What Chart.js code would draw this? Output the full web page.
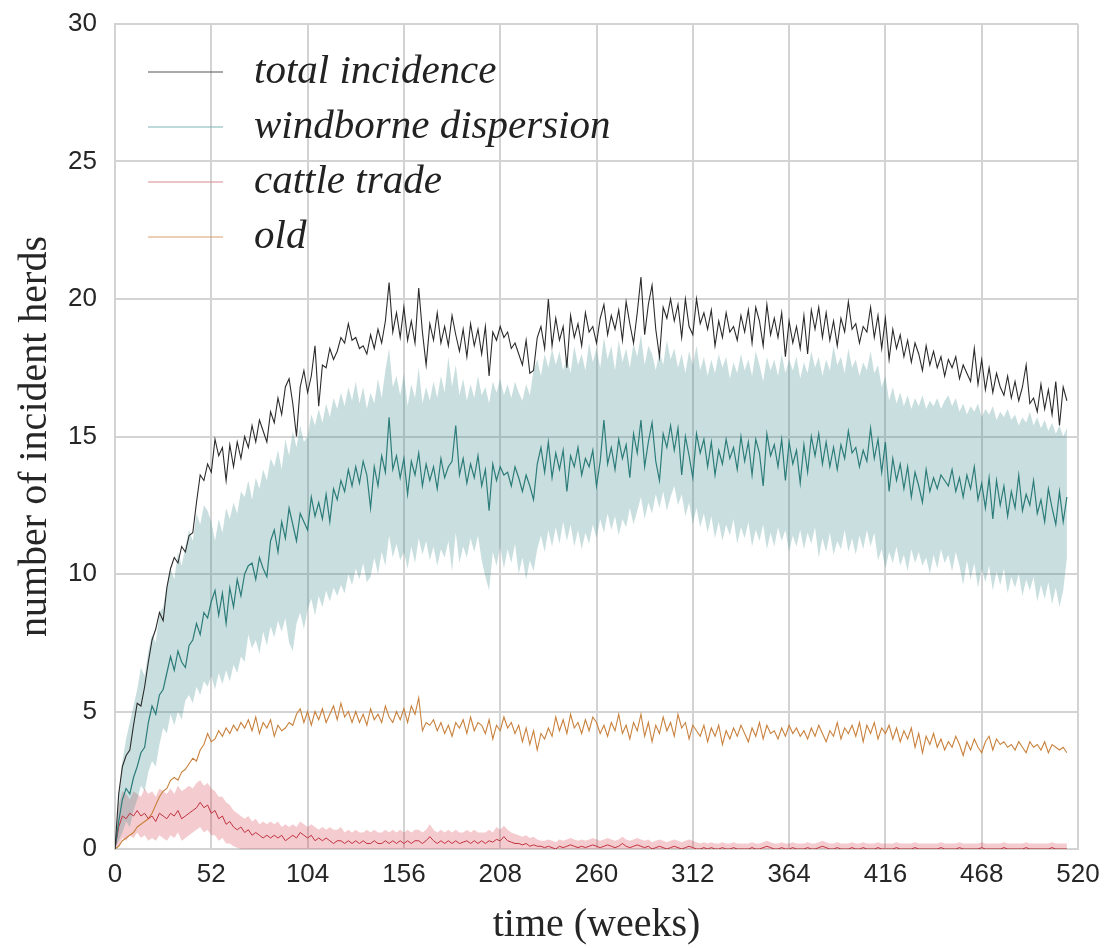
<!DOCTYPE html>
<html>
<head>
<meta charset="utf-8">
<script src="https://cdn.jsdelivr.net/npm/chart.js@4.4.0/dist/chart.umd.min.js"></script>
<style>
  html, body { margin: 0; padding: 0; background: #fff; }
  canvas { display: block; }
</style>
</head>
<body>
<canvas id="incidenceChart" width="1111" height="948"></canvas>
<script>
// weekly series, sampled every 2 weeks (week 0 .. 514)
var totalIncidence = [
  0, 2.0, 3.0, 3.4, 3.6, 4.5, 5.3, 5.2, 5.9, 6.8,
  7.6, 8.0, 8.6, 8.3, 9.5, 10.2, 10.6, 10.4, 11.0, 10.8,
  11.4, 11.5, 12.6, 13.6, 13.4, 14.0, 13.7, 14.9, 14.3, 14.6,
  13.4, 14.7, 13.9, 14.8, 14.2, 15.0, 14.6, 15.4, 14.8, 15.6,
  15.2, 14.8, 15.9, 15.5, 16.4, 15.8, 16.8, 17.1, 16.2, 15.0,
  16.8, 17.4, 16.6, 17.2, 18.3, 16.1, 17.6, 17.5, 18.2, 17.8,
  18.1, 18.6, 18.4, 19.1, 18.5, 18.6, 18.2, 18.3, 18.0, 18.7,
  18.2, 18.9, 18.4, 19.2, 20.6, 18.8, 19.5, 18.6, 19.7, 18.5,
  19.2, 18.4, 20.4, 18.8, 17.6, 19.1, 18.5, 19.5, 18.4, 19.0,
  18.3, 19.4, 18.7, 18.1, 18.9, 17.9, 19.1, 18.3, 18.9, 18.0,
  19.0, 17.2, 18.8, 18.5, 19.0, 18.6, 18.8, 18.2, 18.4, 18.0,
  17.6, 18.5, 17.3, 17.4, 18.6, 19.0, 18.2, 20.0, 18.3, 19.3,
  18.5, 19.0, 17.5, 19.4, 18.6, 19.1, 18.3, 19.5, 18.8, 19.0,
  18.4, 19.3, 19.8, 18.7, 19.4, 18.9, 19.6, 18.5, 19.9, 19.1,
  18.4, 19.5, 20.8, 18.7, 19.8, 20.5, 18.9, 17.9, 19.7, 19.3,
  20.0, 19.2, 19.8, 18.6, 20.0, 19.0, 18.7, 20.0, 19.1, 19.5,
  18.9, 19.6, 18.3, 19.2, 18.6, 19.5, 18.8, 19.0, 18.5, 19.4,
  18.8, 19.6, 18.4, 19.7, 19.2, 18.3, 19.8, 18.7, 19.3, 18.6,
  19.5, 17.9, 19.2, 18.4, 19.0, 18.2, 19.4, 18.0, 19.6, 18.9,
  19.7, 18.6, 19.5, 18.5, 19.2, 18.3, 19.3, 18.8, 19.9, 18.9,
  19.1, 18.4, 19.0, 18.8, 19.7, 18.6, 19.4, 18.2, 19.3, 17.8,
  18.9, 18.2, 18.7, 17.9, 18.5, 17.7, 18.4, 18.0, 17.4, 18.3,
  17.6, 18.1, 17.5, 17.9, 17.2, 17.8, 17.5, 17.9, 17.1, 17.6,
  17.3, 17.0, 18.2, 16.9, 17.8, 16.7, 17.5, 16.6, 17.3, 16.8,
  16.5, 17.2, 16.4, 17.0, 16.3, 16.8, 17.6, 16.2, 16.4, 15.9,
  16.9, 16.0, 16.7, 15.8, 17.0, 15.4, 16.8, 16.3
];

var windborne = [
  0, 1.0, 1.8, 2.2, 2.0, 2.6, 3.0, 3.5, 3.7, 4.6,
  5.2, 4.9, 5.6, 5.8, 6.4, 7.0, 6.5, 7.2, 6.8, 6.6,
  7.4, 7.6, 8.2, 7.8, 8.6, 8.4, 9.0, 9.4, 8.5, 9.3,
  8.2, 9.5, 8.8, 9.8, 9.2, 10.0, 10.3, 10.4, 9.8, 10.6,
  10.2, 9.9, 11.2, 11.6, 10.8, 11.9, 11.3, 12.4, 11.8, 11.2,
  12.2, 11.9, 11.6, 12.8, 12.1, 12.6, 12.0, 12.9, 11.9, 13.1,
  12.7, 13.4, 13.0, 13.8, 13.2, 13.9, 13.3, 14.1, 13.6, 12.4,
  13.9, 13.2, 14.3, 13.7, 15.7, 13.8, 14.3, 13.5, 14.2, 12.9,
  14.1, 13.6, 14.4, 13.2, 14.0, 13.4, 13.9, 13.1, 14.2, 13.5,
  13.9, 14.1, 15.4, 13.6, 14.2, 13.3, 14.0, 13.5, 14.3, 13.2,
  13.8, 12.3, 14.0, 13.4, 13.9, 13.6, 13.7, 13.2, 13.9, 13.5,
  13.0, 13.6, 13.2, 12.7, 14.0, 14.6, 13.7, 14.8, 13.5, 14.4,
  13.8, 14.5, 13.0, 14.3, 13.9, 14.6, 13.6, 14.2, 13.9, 14.5,
  13.2, 14.1, 15.6, 14.0, 14.6, 13.8, 14.9, 14.2, 14.7, 13.5,
  15.1, 14.4, 15.6, 13.9, 14.8, 15.5, 14.1, 13.4, 15.1, 14.6,
  15.4, 14.5, 15.3, 13.6, 15.0, 14.3, 13.5, 15.1, 14.4, 14.9,
  13.9, 14.8, 13.6, 14.5, 14.0, 14.9, 14.2, 14.6, 13.8, 15.0,
  14.1, 14.8, 13.6, 14.9, 14.4, 13.2, 15.1, 14.3, 14.7, 13.9,
  14.9, 13.4, 14.8, 14.0, 14.5, 13.3, 14.7, 13.7, 15.0, 14.3,
  15.1, 14.0, 14.8, 13.9, 14.6, 13.8, 14.7, 14.2, 15.2, 14.4,
  14.6, 13.9, 14.5, 14.1, 15.3, 14.2, 14.9, 13.7, 14.8, 13.0,
  14.2, 13.4, 14.0, 13.1, 13.9, 12.8, 13.7, 13.2, 12.6, 13.8,
  13.0, 13.5, 13.1, 13.6, 13.4, 13.2, 13.8, 13.0, 13.5, 12.8,
  13.6, 13.1, 13.9, 12.7, 13.3, 12.4, 13.5, 12.0, 13.4, 12.5,
  13.2, 12.1, 13.0, 12.4, 13.6, 12.3, 12.9, 12.5, 13.4, 12.2,
  12.7, 11.9, 13.1, 12.4, 11.8, 13.0, 11.9, 12.8
];

var windborneUpper = [
  0, 2.0, 3.2, 4.0, 4.6, 5.2, 5.8, 6.6, 6.3, 7.2,
  7.8, 7.5, 8.6, 8.8, 9.6, 10.2, 9.8, 10.8, 10.3, 11.0,
  11.6, 11.2, 12.2, 11.8, 12.5, 12.3, 11.9, 11.2, 12.0, 11.5,
  12.4, 12.0, 12.6, 12.2, 13.0, 12.8, 13.4, 12.7, 13.5, 13.1,
  13.8, 13.4, 14.2, 13.9, 14.5, 13.8, 14.9, 14.3, 15.2, 14.6,
  15.4, 14.8, 15.0, 15.8, 15.4, 16.0, 15.5, 16.2, 15.7, 16.4,
  16.0, 16.6, 16.1, 16.8, 16.3, 17.0, 16.2, 16.8, 16.0, 16.6,
  16.2, 17.1, 16.4, 17.4, 18.2, 16.8, 17.2, 16.5, 17.3, 16.1,
  16.9, 16.4, 17.5, 16.2, 16.8, 16.3, 17.0, 16.4, 17.2, 16.6,
  17.9, 16.8, 17.6, 16.5, 17.1, 16.3, 16.9, 16.4, 17.2, 16.5,
  16.8, 16.2, 17.0, 16.6, 17.1, 16.5, 16.9, 16.4, 17.0, 16.6,
  16.3, 16.9, 16.5, 17.4, 17.8, 17.2, 18.0, 17.5, 18.2, 17.6,
  18.1, 17.4, 17.9, 17.3, 18.3, 17.6, 18.0, 17.4, 18.4, 17.7,
  18.2, 17.5, 18.6, 17.8, 18.3, 17.4, 18.5, 17.7, 18.2, 17.5,
  18.4, 17.9, 18.7, 17.6, 18.3, 18.0, 17.4, 18.1, 17.6, 18.5,
  17.8, 18.2, 17.5, 18.0, 17.3, 18.1, 17.6, 18.3, 17.4, 17.9,
  17.2, 17.8, 17.3, 18.0, 17.5, 17.9, 17.1, 17.7, 17.3, 18.0,
  17.4, 17.8, 17.2, 18.1, 17.6, 17.0, 17.9, 17.4, 17.8, 17.2,
  18.0, 17.3, 17.8, 17.4, 17.9, 17.1, 17.7, 17.3, 18.1, 17.5,
  17.9, 17.2, 17.8, 17.4, 18.3, 17.6, 17.9, 17.3, 18.2, 17.5,
  17.8, 17.2, 17.7, 17.4, 18.1, 17.3, 17.6, 16.8, 17.2, 16.3,
  16.8, 16.2, 16.6, 16.1, 16.5, 16.0, 16.4, 16.1, 16.5, 16.0,
  16.3, 16.1, 16.4, 16.0, 16.3, 16.5, 16.1, 16.4, 15.9, 16.2,
  15.8, 16.1, 15.9, 16.2, 15.7, 16.0, 15.8, 16.1, 15.6, 15.9,
  15.7, 16.0, 15.6, 15.8, 15.4, 15.7, 15.5, 15.9, 15.4, 15.7,
  15.3, 15.6, 15.2, 15.5, 15.1, 15.4, 15.0, 15.3
];

var windborneLower = [
  0, 0.3, 0.6, 1.0, 0.8, 1.4, 1.8, 2.3, 2.1, 2.8,
  3.2, 3.0, 3.8, 4.4, 4.2, 4.9, 4.5, 5.0, 4.7, 5.4,
  5.6, 5.3, 5.9, 5.6, 6.1, 5.9, 6.3, 5.8, 6.4, 6.0,
  6.5, 6.1, 6.7, 6.4, 7.0, 6.8, 7.8, 7.3, 7.6, 7.1,
  7.9, 7.4, 8.1, 7.7, 8.3, 7.9, 8.4, 7.5, 7.2, 8.2,
  8.6, 8.0, 8.7, 9.1, 8.5, 9.2, 8.8, 9.4, 9.0, 9.5,
  9.2, 9.6, 9.3, 10.0, 9.6, 10.2, 9.8, 10.4, 9.7, 9.9,
  10.6, 10.0, 10.8, 10.3, 11.4, 10.6, 11.1, 10.5, 10.8, 10.2,
  11.0, 10.4, 11.3, 10.7, 11.2, 10.5, 11.0, 10.3, 10.9, 10.6,
  11.2, 10.1, 11.5, 10.4, 11.0, 10.6, 11.3, 10.8, 11.4, 10.5,
  9.9, 9.4, 10.8, 10.3, 11.0, 10.2, 10.9, 10.4, 11.1, 10.0,
  10.6, 9.8, 10.5, 10.1, 10.9, 11.4, 10.8, 11.6, 11.0, 11.7,
  11.1, 11.9, 11.2, 11.8, 11.0, 11.6, 10.9, 11.5, 11.1, 11.8,
  11.3, 12.0, 11.5, 12.2, 11.6, 12.1, 11.4, 12.0, 11.7, 12.4,
  11.8, 12.3, 12.8, 12.0, 12.6, 12.2, 12.9, 12.4, 13.0, 12.3,
  12.8, 13.2, 12.5, 12.9, 12.1, 12.6, 11.8, 12.4, 11.7, 12.2,
  11.5, 12.1, 11.3, 11.9, 11.2, 11.8, 11.4, 12.0, 11.1, 11.7,
  11.3, 11.9, 11.0, 11.6, 11.2, 11.8, 10.9, 11.5, 11.0, 11.7,
  11.2, 11.6, 10.8, 11.4, 11.0, 11.6, 10.9, 11.5, 11.1, 11.7,
  10.6, 11.3, 10.8, 11.5, 10.7, 11.2, 10.9, 11.6, 10.8, 11.3,
  10.7, 11.4, 10.9, 11.6, 11.0, 11.5, 10.5, 10.9, 10.2, 10.8,
  10.4, 11.0, 10.3, 10.7, 10.1, 10.9, 10.4, 10.8, 10.3, 10.6,
  10.0, 10.7, 10.2, 10.9, 10.4, 10.7, 10.1, 10.8, 10.3, 9.6,
  10.5, 9.8, 10.4, 9.5, 10.2, 9.7, 10.3, 9.4, 10.1, 9.6,
  10.2, 9.3, 9.9, 9.5, 10.0, 9.2, 9.8, 9.4, 9.9, 9.0,
  9.6, 9.1, 9.7, 8.9, 9.5, 8.8, 9.4, 10.6
];

var cattleTrade = [
  0, 0.8, 1.2, 1.1, 1.3, 1.2, 1.4, 1.2, 1.3, 1.1,
  1.2, 1.0, 1.3, 1.2, 1.1, 1.3, 1.2, 1.4, 1.1, 1.2,
  1.3, 1.4, 1.5, 1.7, 1.5, 1.6, 1.3, 1.4, 1.1, 1.2,
  0.9, 1.0, 0.8, 0.7, 0.8, 0.6, 0.7, 0.5, 0.6, 0.5,
  0.4, 0.5, 0.4, 0.5, 0.4, 0.5, 0.3, 0.4, 0.5, 0.4,
  0.6, 0.5, 0.4, 0.5, 0.3, 0.4, 0.3, 0.4, 0.3, 0.2,
  0.3, 0.3, 0.2, 0.3, 0.2, 0.3, 0.2, 0.3, 0.2, 0.2,
  0.3, 0.2, 0.2, 0.3, 0.2, 0.3, 0.2, 0.3, 0.2, 0.3,
  0.2, 0.3, 0.3, 0.2, 0.3, 0.45, 0.3, 0.2, 0.3, 0.2,
  0.3, 0.2, 0.3, 0.2, 0.25, 0.3, 0.2, 0.3, 0.2, 0.3,
  0.2, 0.3, 0.25, 0.35, 0.3, 0.45, 0.3, 0.25, 0.2, 0.2,
  0.15, 0.2, 0.1, 0.15, 0.1, 0.1, 0.05, 0.1, 0.05, 0,
  0.1, 0.05, 0.1, 0.15, 0.1, 0.05, 0.1, 0.05, 0.1, 0.15,
  0.1, 0.05, 0.1, 0.15, 0.1, 0.05, 0.1, 0.2, 0.1, 0.05,
  0.1, 0.15, 0.1, 0.05, 0.1, 0, 0.05, 0.1, 0.05, 0,
  0.05, 0.1, 0.05, 0, 0.05, 0.1, 0.05, 0, 0, 0.05,
  0, 0.05, 0, 0, 0.05, 0, 0, 0.05, 0, 0,
  0, 0, 0.05, 0, 0, 0.05, 0.1, 0.05, 0, 0,
  0.05, 0, 0, 0.05, 0, 0, 0, 0.05, 0, 0,
  0.05, 0.1, 0.05, 0, 0, 0.05, 0, 0, 0, 0.05,
  0, 0, 0.05, 0, 0, 0, 0.05, 0, 0, 0,
  0, 0.05, 0, 0, 0, 0, 0.05, 0, 0, 0,
  0, 0, 0, 0.05, 0, 0, 0, 0, 0.05, 0,
  0, 0, 0, 0, 0.05, 0, 0, 0, 0, 0,
  0.05, 0, 0, 0, 0, 0, 0.05, 0, 0, 0,
  0, 0, 0, 0.05, 0, 0, 0, 0
];

var cattleUpper = [
  0, 1.6, 2.1, 2.0, 1.8, 2.1, 2.0, 1.9, 2.2, 2.0,
  2.1, 1.9, 2.2, 2.1, 2.0, 2.2, 2.0, 2.3, 2.1, 2.2,
  2.3, 2.2, 2.4, 2.5, 2.3, 2.4, 2.2, 2.1, 1.9, 1.9,
  1.7, 1.6, 1.4, 1.3, 1.2, 1.1, 1.2, 1.0, 1.1, 0.9,
  1.0, 0.9, 1.0, 0.9, 1.0, 0.8, 0.9, 0.8, 0.9, 0.8,
  1.0, 0.9, 0.8, 0.9, 0.8, 0.7, 0.8, 0.7, 0.8, 0.7,
  0.7, 0.8, 0.6, 0.7, 0.6, 0.7, 0.6, 0.6, 0.7, 0.6,
  0.7, 0.6, 0.6, 0.7, 0.6, 0.7, 0.6, 0.7, 0.6, 0.7,
  0.6, 0.7, 0.7, 0.6, 0.7, 0.9, 0.7, 0.6, 0.7, 0.6,
  0.7, 0.6, 0.7, 0.6, 0.6, 0.7, 0.6, 0.7, 0.6, 0.6,
  0.6, 0.7, 0.6, 0.8, 0.7, 0.85, 0.7, 0.6, 0.55, 0.5,
  0.45, 0.5, 0.4, 0.45, 0.35, 0.3, 0.3, 0.35, 0.3, 0.25,
  0.35, 0.3, 0.35, 0.4, 0.35, 0.3, 0.35, 0.3, 0.35, 0.4,
  0.35, 0.3, 0.35, 0.4, 0.35, 0.3, 0.35, 0.45, 0.35, 0.3,
  0.35, 0.4, 0.35, 0.3, 0.35, 0.25, 0.3, 0.35, 0.3, 0.25,
  0.3, 0.35, 0.3, 0.25, 0.3, 0.35, 0.3, 0.25, 0.2, 0.25,
  0.2, 0.25, 0.2, 0.2, 0.25, 0.2, 0.2, 0.25, 0.2, 0.2,
  0.2, 0.2, 0.25, 0.2, 0.2, 0.25, 0.3, 0.25, 0.2, 0.2,
  0.25, 0.2, 0.2, 0.25, 0.2, 0.2, 0.2, 0.25, 0.2, 0.2,
  0.25, 0.3, 0.25, 0.2, 0.2, 0.25, 0.2, 0.2, 0.2, 0.25,
  0.2, 0.2, 0.25, 0.2, 0.2, 0.2, 0.25, 0.2, 0.2, 0.2,
  0.2, 0.25, 0.2, 0.2, 0.2, 0.2, 0.25, 0.2, 0.2, 0.2,
  0.2, 0.2, 0.2, 0.25, 0.2, 0.2, 0.2, 0.2, 0.25, 0.2,
  0.2, 0.2, 0.2, 0.2, 0.25, 0.2, 0.2, 0.2, 0.2, 0.2,
  0.25, 0.2, 0.2, 0.2, 0.2, 0.2, 0.25, 0.2, 0.2, 0.2,
  0.2, 0.2, 0.2, 0.25, 0.2, 0.2, 0.2, 0.2
];

var cattleLower = [
  0, 0.1, 0.4, 0.3, 0.5, 0.4, 0.6, 0.4, 0.5, 0.3,
  0.4, 0.3, 0.5, 0.4, 0.3, 0.5, 0.4, 0.6, 0.3, 0.4,
  0.5, 0.6, 0.7, 0.8, 0.6, 0.7, 0.5, 0.5, 0.3, 0.4,
  0.2, 0.2, 0.1, 0.05, 0, 0, 0, 0, 0, 0,
  0, 0, 0, 0, 0, 0, 0, 0, 0, 0,
  0, 0, 0, 0, 0, 0, 0, 0, 0, 0,
  0, 0, 0, 0, 0, 0, 0, 0, 0, 0,
  0, 0, 0, 0, 0, 0, 0, 0, 0, 0,
  0, 0, 0, 0, 0, 0, 0, 0, 0, 0,
  0, 0, 0, 0, 0, 0, 0, 0, 0, 0,
  0, 0, 0, 0, 0, 0, 0, 0, 0, 0,
  0, 0, 0, 0, 0, 0, 0, 0, 0, 0,
  0, 0, 0, 0, 0, 0, 0, 0, 0, 0,
  0, 0, 0, 0, 0, 0, 0, 0, 0, 0,
  0, 0, 0, 0, 0, 0, 0, 0, 0, 0,
  0, 0, 0, 0, 0, 0, 0, 0, 0, 0,
  0, 0, 0, 0, 0, 0, 0, 0, 0, 0,
  0, 0, 0, 0, 0, 0, 0, 0, 0, 0,
  0, 0, 0, 0, 0, 0, 0, 0, 0, 0,
  0, 0, 0, 0, 0, 0, 0, 0, 0, 0,
  0, 0, 0, 0, 0, 0, 0, 0, 0, 0,
  0, 0, 0, 0, 0, 0, 0, 0, 0, 0,
  0, 0, 0, 0, 0, 0, 0, 0, 0, 0,
  0, 0, 0, 0, 0, 0, 0, 0, 0, 0,
  0, 0, 0, 0, 0, 0, 0, 0, 0, 0,
  0, 0, 0, 0, 0, 0, 0, 0
];

var oldInfections = [
  0, 0.1, 0.3, 0.4, 0.5, 0.6, 0.8, 0.9, 1.0, 1.1,
  1.3, 1.6, 1.9, 2.1, 2.2, 2.5, 2.6, 2.5, 2.8, 2.9,
  3.1, 3.3, 3.2, 3.6, 3.8, 4.2, 3.9, 4.0, 4.3, 4.1,
  4.4, 4.2, 4.5, 4.3, 4.6, 4.4, 4.7, 4.3, 4.8, 4.2,
  4.6, 4.4, 4.7, 4.1, 4.5, 4.3, 4.4, 4.6, 4.5, 4.9,
  5.1, 4.6, 5.0, 4.5, 5.0, 4.7, 5.1, 4.6, 4.9, 5.2,
  4.7, 5.3, 4.8, 5.0, 4.6, 5.0, 4.6, 4.9, 4.5, 5.1,
  4.7, 4.9, 4.6, 5.2, 4.8, 4.6, 5.0, 4.7, 5.1, 4.6,
  5.2, 4.9, 5.5, 4.3, 4.6, 4.5, 4.7, 4.3, 4.6, 4.2,
  4.5, 4.1, 4.6, 4.4, 4.7, 4.2, 4.8, 4.3, 4.6, 4.5,
  4.2, 4.7, 4.0, 4.5, 4.3, 4.8, 4.4, 4.6, 4.2, 4.5,
  3.9, 4.4, 3.8, 4.3, 3.6, 4.2, 4.0, 4.4, 4.1, 4.8,
  4.3, 4.7, 4.2, 4.9, 4.4, 4.6, 4.2, 4.7, 4.3, 4.8,
  4.6, 4.2, 4.5, 4.1, 4.6, 4.3, 4.9, 4.2, 4.5, 4.0,
  4.6, 4.3, 4.9, 4.1, 4.6, 3.9, 4.5, 4.2, 4.8, 4.3,
  4.6, 4.1, 4.9, 4.4, 4.6, 4.0, 4.5, 4.3, 4.1, 4.5,
  3.9, 4.4, 4.1, 4.5, 3.8, 4.3, 4.0, 4.4, 4.1, 4.5,
  4.2, 3.9, 4.4, 4.1, 4.6, 4.0, 4.5, 4.2, 4.3, 4.0,
  4.4, 4.1, 4.5, 4.2, 4.4, 4.1, 4.3, 4.0, 4.4, 4.1,
  4.5, 4.2, 3.9, 4.3, 4.1, 4.6, 4.0, 4.4, 4.2, 4.5,
  4.1, 4.6, 3.9, 4.5, 4.2, 4.6, 4.0, 4.4, 4.2, 4.5,
  4.0, 4.4, 3.9, 4.3, 4.0, 4.4, 3.7, 4.2, 3.5, 4.1,
  3.8, 4.2, 3.7, 4.0, 3.6, 3.9, 3.7, 4.1, 3.8, 3.4,
  3.9, 3.6, 4.0, 3.7, 3.5, 3.9, 4.1, 3.6, 4.0, 3.8,
  3.9, 3.7, 3.8, 3.6, 3.9, 3.7, 3.5, 3.9, 3.7, 3.8,
  3.6, 3.9, 3.5, 3.8, 3.7, 3.6, 3.7, 3.5
];

var xTicks = [0, 52, 104, 156, 208, 260, 312, 364, 416, 468, 520];
var yTicks = [0, 5, 10, 15, 20, 25, 30];

// time axis: one sample every 2 weeks
var weeks = totalIncidence.map(function (v, i) { return i * 2; });

function points(values) {
    return values.map(function (v, i) { return { x: weeks[i], y: v }; });
}

var gridColor = '#d3d3d3';
var textColor = '#262626';

var inlineLegend = {
    id: 'inlineLegend',
    afterDraw: function (chart) {
        var ctx = chart.ctx;
        var area = chart.chartArea;
        ctx.save();
        ctx.font = 'italic 41px "Liberation Serif"';
        ctx.textBaseline = 'middle';
        ctx.fillStyle = '#222222';
        var row = 0;
        chart.data.datasets.forEach(function (ds) {
            if (!ds.label) return;
            var y = area.top + 48 + row * 55;
            ctx.strokeStyle = ds.legendColor || ds.borderColor;
            ctx.lineWidth = 1.2;
            ctx.beginPath();
            ctx.moveTo(area.left + 33, y);
            ctx.lineTo(area.left + 108, y);
            ctx.stroke();
            ctx.fillText(ds.label, area.left + 139, y);
            row++;
        });
        ctx.restore();
    }
};

Chart.defaults.font.family = '"Liberation Sans", Arial, sans-serif';

var ctx = document.getElementById('incidenceChart').getContext('2d');
new Chart(ctx, {
    type: 'line',
    data: {
        datasets: [
            { label: 'total incidence', data: points(totalIncidence), borderColor: '#2a2a2a', legendColor: '#555555', borderWidth: 1.1, pointRadius: 0, fill: false, order: 1 },
            { label: 'windborne dispersion', data: points(windborne), borderColor: '#2c7c7a', legendColor: '#7fb3b5', borderWidth: 1.2, pointRadius: 0, fill: false, order: 1 },
            { label: 'cattle trade', data: points(cattleTrade), borderColor: '#c0323f', legendColor: '#d88a92', borderWidth: 1, pointRadius: 0, fill: false, order: 1 },
            { label: 'old', data: points(oldInfections), borderColor: '#c9823d', legendColor: '#d9a06a', borderWidth: 1.1, pointRadius: 0, fill: false, order: 1 },
            { data: points(windborneUpper), borderWidth: 0, borderColor: 'rgba(0,0,0,0)', backgroundColor: 'rgba(62,138,138,0.28)', pointRadius: 0, fill: '+1', order: 2 },
            { data: points(windborneLower), borderWidth: 0, borderColor: 'rgba(0,0,0,0)', pointRadius: 0, fill: false, order: 2 },
            { data: points(cattleUpper), borderWidth: 0, borderColor: 'rgba(0,0,0,0)', backgroundColor: 'rgba(214,64,76,0.27)', pointRadius: 0, fill: '+1', order: 2 },
            { data: points(cattleLower), borderWidth: 0, borderColor: 'rgba(0,0,0,0)', pointRadius: 0, fill: false, order: 2 }
        ]
    },
    options: {
        responsive: false,
        animation: false,
        layout: { padding: { top: 24, right: 33, left: 0, bottom: 0 } },
        plugins: {
            legend: { display: false },
            tooltip: { enabled: false }
        },
        elements: { line: { tension: 0 } },
        scales: {
            x: {
                type: 'linear',
                min: 0,
                max: 520,
                afterBuildTicks: function (scale) {
                    scale.ticks = xTicks.map(function (v) { return { value: v }; });
                },
                afterFit: function (scale) {
                    scale.height = 99;
                    scale.paddingLeft = 0;
                    scale.paddingRight = 0;
                },
                ticks: { color: textColor, font: { size: 26 }, padding: 10, maxRotation: 0, autoSkip: false },
                grid: { color: gridColor, lineWidth: 2, drawTicks: false },
                border: { display: true, color: gridColor, width: 2 },
                title: {
                    display: true,
                    text: 'time (weeks)',
                    color: textColor,
                    font: { family: '"Liberation Serif", serif', size: 40, lineHeight: 1 },
                    padding: { top: 0, bottom: 3 }
                }
            },
            y: {
                min: 0,
                max: 30,
                afterBuildTicks: function (scale) {
                    scale.ticks = yTicks.map(function (v) { return { value: v }; });
                },
                afterFit: function (scale) {
                    scale.width = 115;
                    scale.paddingTop = 0;
                    scale.paddingBottom = 0;
                },
                ticks: { color: textColor, font: { size: 26 }, padding: 18 },
                grid: { color: gridColor, lineWidth: 2, drawTicks: false },
                border: { display: true, color: gridColor, width: 2 },
                title: {
                    display: true,
                    text: 'number of incident herds',
                    color: textColor,
                    font: { family: '"Liberation Serif", serif', size: 40, lineHeight: 1 },
                    padding: { top: 15, bottom: 0 }
                }
            }
        }
    },
    plugins: [inlineLegend]
});
</script>
</body>
</html>
